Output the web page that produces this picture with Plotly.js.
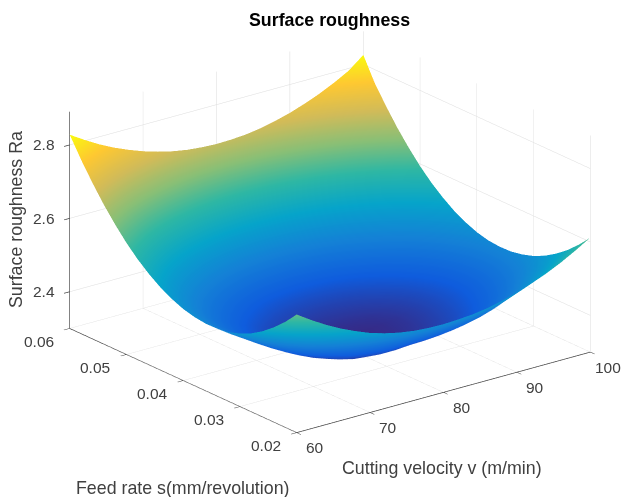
<!DOCTYPE html>
<html><head><meta charset="utf-8">
<script src="https://cdn.plot.ly/plotly-3.0.0.min.js"></script>
<style>html,body{margin:0;padding:0;background:#fff}#g{width:628px;height:497px}</style>
</head><body><div id="g"></div>
<script>
const velocity=[60,62,64,66,68,70,72,74,76,78,80,82,84,86,88,90,92,94,96,98,100];
const feed=[0.02,0.022,0.024,0.026,0.028,0.03,0.032,0.034,0.036,0.038,0.04,0.042,0.044,0.046,0.048,0.05,0.052,0.054,0.056,0.058,0.06];
const roughness=[
[2.622,2.596,2.572,2.551,2.533,2.517,2.505,2.496,2.490,2.487,2.486,2.488,2.491,2.497,2.506,2.517,2.531,2.547,2.566,2.588,2.612],
[2.588,2.562,2.538,2.516,2.497,2.480,2.467,2.458,2.452,2.450,2.449,2.451,2.455,2.461,2.470,2.481,2.496,2.513,2.533,2.555,2.579],
[2.559,2.532,2.507,2.483,2.463,2.446,2.431,2.420,2.413,2.413,2.413,2.415,2.418,2.423,2.432,2.445,2.462,2.482,2.504,2.526,2.550],
[2.534,2.507,2.480,2.456,2.434,2.416,2.399,2.389,2.383,2.383,2.386,2.387,2.390,2.395,2.404,2.419,2.437,2.457,2.480,2.502,2.526],
[2.514,2.486,2.459,2.434,2.411,2.393,2.377,2.367,2.363,2.364,2.366,2.369,2.372,2.378,2.387,2.401,2.419,2.438,2.460,2.482,2.506],
[2.499,2.471,2.444,2.419,2.396,2.378,2.364,2.355,2.352,2.353,2.355,2.358,2.362,2.368,2.377,2.390,2.407,2.425,2.445,2.467,2.491],
[2.489,2.462,2.435,2.411,2.389,2.371,2.358,2.350,2.347,2.347,2.346,2.348,2.352,2.360,2.371,2.384,2.399,2.416,2.435,2.457,2.481],
[2.484,2.457,2.432,2.408,2.388,2.371,2.359,2.351,2.347,2.347,2.343,2.345,2.349,2.356,2.367,2.380,2.394,2.410,2.429,2.451,2.475],
[2.483,2.457,2.433,2.411,2.392,2.375,2.363,2.355,2.350,2.348,2.343,2.344,2.348,2.355,2.366,2.379,2.393,2.409,2.428,2.450,2.474],
[2.487,2.461,2.437,2.416,2.398,2.382,2.370,2.361,2.355,2.352,2.349,2.350,2.353,2.360,2.370,2.382,2.396,2.412,2.431,2.453,2.477],
[2.495,2.470,2.446,2.426,2.408,2.393,2.381,2.371,2.365,2.361,2.360,2.361,2.364,2.370,2.379,2.390,2.404,2.420,2.439,2.461,2.485],
[2.508,2.483,2.460,2.440,2.423,2.408,2.396,2.386,2.379,2.375,2.373,2.374,2.377,2.383,2.392,2.403,2.417,2.433,2.452,2.474,2.498],
[2.525,2.500,2.477,2.457,2.440,2.425,2.413,2.403,2.396,2.392,2.390,2.391,2.394,2.400,2.409,2.420,2.434,2.450,2.469,2.491,2.515],
[2.547,2.522,2.499,2.479,2.462,2.447,2.435,2.425,2.418,2.414,2.412,2.413,2.416,2.422,2.431,2.442,2.456,2.472,2.491,2.513,2.537],
[2.573,2.548,2.525,2.505,2.488,2.473,2.461,2.451,2.444,2.440,2.438,2.439,2.442,2.448,2.457,2.468,2.482,2.498,2.517,2.539,2.563],
[2.604,2.579,2.556,2.536,2.519,2.504,2.492,2.482,2.475,2.471,2.469,2.470,2.473,2.479,2.488,2.499,2.513,2.529,2.548,2.570,2.594],
[2.640,2.615,2.592,2.572,2.555,2.540,2.528,2.518,2.511,2.507,2.505,2.506,2.509,2.515,2.524,2.535,2.549,2.565,2.584,2.606,2.630],
[2.680,2.655,2.632,2.612,2.595,2.580,2.568,2.558,2.551,2.547,2.545,2.546,2.549,2.555,2.564,2.575,2.589,2.605,2.624,2.646,2.670],
[2.725,2.700,2.677,2.657,2.640,2.625,2.613,2.603,2.596,2.592,2.590,2.591,2.594,2.600,2.609,2.620,2.634,2.650,2.669,2.691,2.715],
[2.774,2.749,2.726,2.706,2.689,2.674,2.662,2.652,2.645,2.641,2.639,2.640,2.643,2.649,2.658,2.669,2.683,2.699,2.718,2.740,2.764],
[2.828,2.803,2.780,2.760,2.743,2.728,2.716,2.706,2.699,2.695,2.693,2.694,2.697,2.703,2.712,2.723,2.737,2.753,2.772,2.794,2.826]];
const xTicks=[60,70,80,90,100];
const yTicks=[0.02,0.03,0.04,0.05,0.06];
const zTicks=[2.4,2.6,2.8];
const parula=[[0,'#352a87'],[0.125,'#0f5cdd'],[0.25,'#1481d6'],[0.375,'#06a4ca'],[0.5,'#2eb7a4'],[0.625,'#87bf77'],[0.75,'#d1bb59'],[0.875,'#fec832'],[1,'#f9fb0e']];
const txt='#404040', fam='"Liberation Sans",Arial,sans-serif';
const zr=[2.3,2.89];
function ax(range,vals){return {range:range,autorange:false,tickvals:vals,title:{text:''},showticklabels:false,
 showbackground:false,showgrid:true,gridcolor:'#dcdcdc',gridwidth:1,zeroline:false,showline:true,linecolor:'#404040',linewidth:1.5,
 ticks:'outside',ticklen:7,tickwidth:1.5,tickcolor:'#404040',showspikes:false};}
const R=1.257, K=1.6;
function note(text,x,y,size,color,angle){return {text:text,xref:'paper',yref:'paper',x:x/628,y:1-y/497,xanchor:'center',yanchor:'middle',textangle:angle||0,showarrow:false,font:{family:fam,size:size,color:color}};}
function tick(x,y,z,text,dx,dy){return {x:x,y:y,z:z,text:text,showarrow:false,xanchor:'center',yanchor:'middle',xshift:dx,yshift:-dy,font:{family:fam,size:15.5,color:txt}};}
const sceneNotes=[
 ...xTicks.map(v=>tick(v,0.02,zr[0],String(v),18,15)),
 ...yTicks.map(v=>tick(60,v,zr[0],v.toFixed(2),-31,13)),
 ...zTicks.map(v=>tick(60,0.06,v,v.toFixed(1),-26,0))];
Plotly.newPlot('g',[{type:'surface',x:velocity,y:feed,z:roughness,colorscale:parula,showscale:false,
 lighting:{ambient:1,diffuse:0,specular:0,roughness:1,fresnel:0},hoverinfo:'skip'}],{
 width:628,height:497,margin:{l:0,r:0,t:0,b:0},paper_bgcolor:'#fff',showlegend:false,
 font:{family:fam,color:txt},
 scene:{domain:{x:[0.051,1],y:[0.0664,1]},aspectmode:'manual',aspectratio:{x:K,y:K,z:0.624*K},
  camera:{projection:{type:'orthographic'},center:{x:0,y:0,z:0},up:{x:0,y:0,z:1},eye:{x:-0.572*R,y:-0.740*R,z:0.355*R}},
  xaxis:ax([60,100],xTicks),yaxis:ax([0.02,0.06],yTicks),zaxis:ax(zr,zTicks),annotations:sceneNotes},
 annotations:[
  note('<b>Surface roughness</b>',329,20,17.8,'#000'),
  note('Surface roughness Ra',16,220,17.8,txt,-90),
  note('Cutting velocity v (m/min)',442,468,17.8,txt),
  note('Feed rate s(mm/revolution)',182.5,487.5,17.8,txt)
 ]},{displayModeBar:false});
</script></body></html>
